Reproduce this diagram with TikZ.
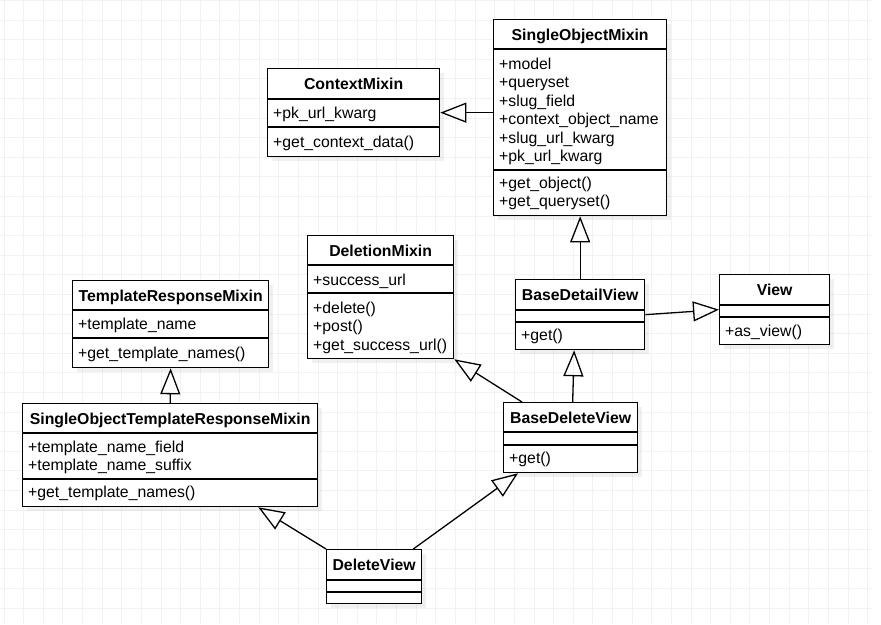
\documentclass[tikz,border=0pt]{standalone}
\usepackage{fontspec}
\setmainfont{Liberation Sans}
\usetikzlibrary{arrows.meta,shadows}

% class box: name, top left, width, height, title, header line, divider line
\newcommand{\umlclass}[7]{%
	\node[umlbox, minimum width=#3pt, minimum height=#4pt] (#1) at (#2) {};
	\node[umltitle] (#1-title) at ([yshift=-21pt]#1.north) {#5};
	\draw[umlline] ([yshift=-#6pt]#1.north west) -- ([yshift=-#6pt]#1.north east);
	\draw[umlline] ([yshift=-#7pt]#1.north west) -- ([yshift=-#7pt]#1.north east);
}
% members: class name, tag, first baseline, list
\newcommand{\umlmembers}[4]{%
	\foreach \m [count=\i] in {#4}
		\node[member] (#1-#2\i) at ([xshift=6pt,yshift={-#3pt-18.5pt*(\i-1)}]#1.north west) {\m};
}

\begin{document}
\begin{tikzpicture}[
			x = 1pt, y = -1pt,
			every node/.style = {font=\fontsize{15.8}{18}\selectfont},
			umlbox/.style = {draw, line width=1.3pt, fill=white, anchor=north west, inner sep=0pt,
				drop shadow={opacity=0.12, shadow xshift=4pt, shadow yshift=-4pt}},
			umltitle/.style = {anchor=base, inner sep=0pt, font=\fontsize{15.8}{18}\selectfont\bfseries},
			member/.style = {anchor=base west, inner sep=0pt},
			umlline/.style = {line width=1.3pt},
			inherits/.style = {-{Triangle[open,length=26pt,width=20pt]}, line width=1.3pt},
			gridline/.style = {black!5, line width=0.8pt}
			]

			\useasboundingbox (0,0) rectangle (881,624);

			% background grid
			\foreach \gx in {0,...,44} \draw[gridline] (3.9+19.63*\gx,0) -- (3.9+19.63*\gx,624);
			\foreach \gy in {0,...,31} \draw[gridline] (0,0.4+19.6*\gy) -- (872,0.4+19.6*\gy);

			% classes
			\umlclass{ctx}{267,68}{172}{88}{ContextMixin}{31}{59}
			\umlmembers{ctx}{a}{50}{+pk\_url\_kwarg}
			\umlmembers{ctx}{m}{79}{+get\_context\_data()}

			\umlclass{som}{493,19}{173}{196}{SingleObjectMixin}{30}{151}
			\umlmembers{som}{a}{50}{+model, +queryset, +slug\_field, +context\_object\_name, +slug\_url\_kwarg, +pk\_url\_kwarg}
			\umlmembers{som}{m}{169}{+get\_object(), +get\_queryset()}

			\umlclass{trm}{72,280}{196}{87}{TemplateResponseMixin}{30}{58}
			\umlmembers{trm}{a}{49}{+template\_name}
			\umlmembers{trm}{m}{78}{+get\_template\_names()}

			\umlclass{dm}{307,235}{146}{123}{DeletionMixin}{30}{58}
			\umlmembers{dm}{a}{50}{+success\_url}
			\umlmembers{dm}{m}{78}{+delete(), +post(), +get\_success\_url()}

			\umlclass{bdtv}{515,279}{129}{70}{BaseDetailView}{31}{43}
			\umlmembers{bdtv}{m}{61}{+get()}

			\umlclass{view}{719,274}{110}{70}{View}{31}{43}
			\umlmembers{view}{m}{62}{+as\_view()}

			\umlclass{sotrm}{22,403}{295}{103}{SingleObjectTemplateResponseMixin}{30}{76}
			\umlmembers{sotrm}{a}{49}{+template\_name\_field, +template\_name\_suffix}
			\umlmembers{sotrm}{m}{94}{+get\_template\_names()}

			\umlclass{bdv}{503,402}{134}{70}{BaseDeleteView}{30}{43}
			\umlmembers{bdv}{m}{61}{+get()}

			\umlclass{dv}{326,549}{95}{54}{DeleteView}{31}{43}

			% inheritance
			\draw[inherits] (som.west |- ctx.east) -- (ctx.east);
			\draw[inherits] (bdtv.north) -- (som.south);
			\draw[inherits] (bdtv.east) -- (view.west);
			\draw[inherits] ([xshift=2pt]bdv.north) -- ([xshift=-6pt]bdtv.south);
			\draw[inherits] ([xshift=19pt]bdv.north west) -- (dm.south east);
			\draw[inherits] (sotrm.north) -- (trm.south);
			\draw[inherits] (dv.north west) -- ([xshift=-60pt]sotrm.south east);
			\draw[inherits] ([xshift=-9pt]dv.north east) -- ([xshift=15pt]bdv.south west);

		\end{tikzpicture}
\end{document}
